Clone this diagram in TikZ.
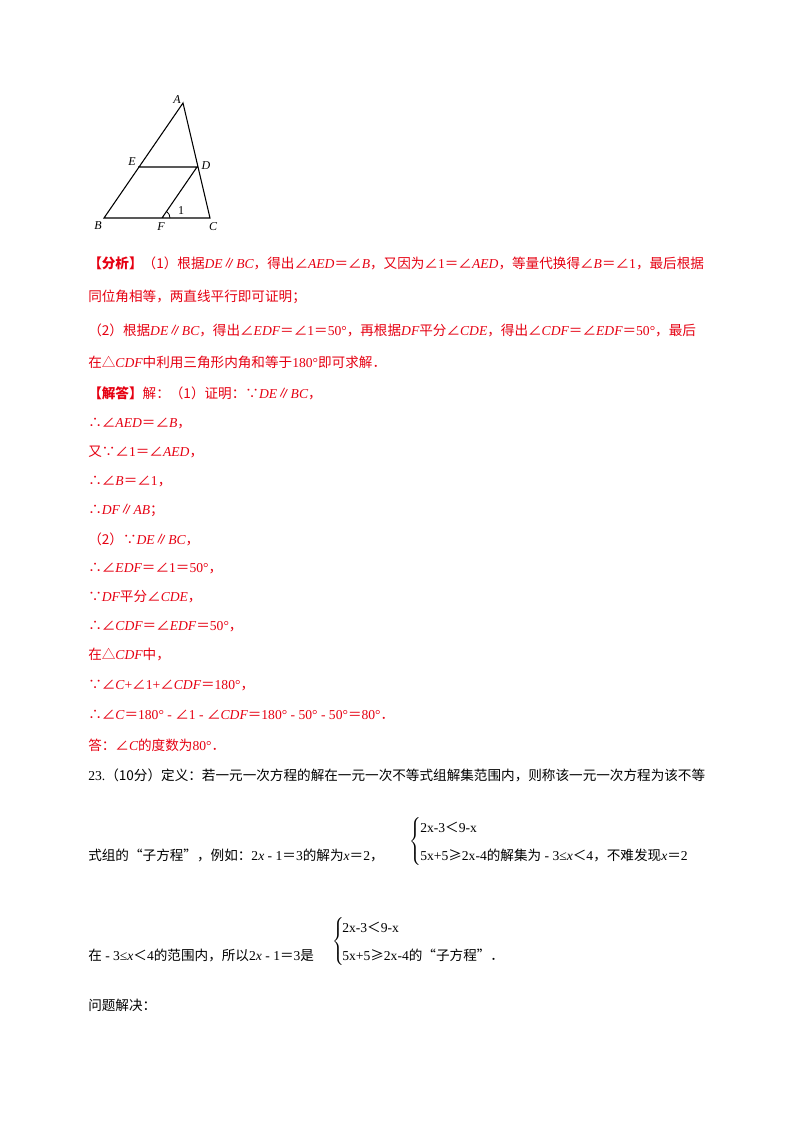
\documentclass[tikz,border=0pt]{standalone}
\usepackage{fontspec}
\setmainfont{Noto Sans CJK SC}
\newfontfamily\tm{Liberation Serif}
\newcommand{\mi}[1]{{\tm\itshape #1}}
\newcommand{\rn}[1]{{\tm #1}}
\newcommand{\ang}{∠}
\definecolor{ans}{RGB}{230,0,18}
\begin{document}
\begin{tikzpicture}[x=0.75pt,y=-0.75pt,
  ln/.style={anchor=west,inner sep=0pt,font=\fontsize{10.2pt}{12pt}\selectfont},
  rd/.style={ln,text=ans},
  seg/.style={line width=0.8pt},
  lab/.style={font=\tm\itshape\fontsize{9pt}{10pt}\selectfont,inner sep=1pt}]
\useasboundingbox (0,0) rectangle (800,1132);
\fill[white] (0,0) rectangle (800,1132);
% figure
\coordinate (A) at (183,103); \coordinate (E) at (138,167);
\coordinate (D) at (197,167); \coordinate (B) at (104,218);
\coordinate (F) at (162,218); \coordinate (C) at (210,218);
\draw[seg] (A)--(B)--(C)--cycle (E)--(D)--(F);
\draw[line width=0.6pt] (170,218) arc[start angle=0,end angle=-54,radius=8];
\node[lab] (lA) at (177,100) {A}; \node[lab] (lE) at (132,162) {E};
\node[lab] (lD) at (206,166) {D}; \node[lab] (lB) at (98,226) {B};
\node[lab] (lF) at (161,227) {F}; \node[lab] (lC) at (213,227) {C};
\node[lab,font=\tm\fontsize{9pt}{10pt}\selectfont] (l1) at (181,211) {1};
% analysis
\node[rd] (t1) at (88,263) {\textbf{【分析】}（1）根据\mi{DE}∥\mi{BC}，得出\ang\mi{AED}＝\ang\mi{B}，又因为\ang\rn{1}＝\ang\mi{AED}，等量代换得\ang\mi{B}＝\ang\rn{1}，最后根据};
\node[rd] (t2) at (88,297) {同位角相等，两直线平行即可证明；};
\node[rd] (t3) at (88,330) {（2）根据\mi{DE}∥\mi{BC}，得出\ang\mi{EDF}＝\ang\rn{1}＝\rn{50°}，再根据\mi{DF}平分\ang\mi{CDE}，得出\ang\mi{CDF}＝\ang\mi{EDF}＝\rn{50°}，最后};
\node[rd] (t4) at (88,362) {在△\mi{CDF}中利用三角形内角和等于\rn{180°}即可求解．};
\node[rd] (t5) at (88,393) {\textbf{【解答】}解：（1）证明：∵\mi{DE}∥\mi{BC}，};
\node[rd] (t6) at (88,423) {∴\ang\mi{AED}＝\ang\mi{B}，};
\node[rd] (t7) at (88,452) {又∵\ang\rn{1}＝\ang\mi{AED}，};
\node[rd] (t8) at (88,481) {∴\ang\mi{B}＝\ang\rn{1}，};
\node[rd] (t9) at (88,510) {∴\mi{DF}∥\mi{AB}；};
\node[rd] (t10) at (88,539) {（2）∵\mi{DE}∥\mi{BC}，};
\node[rd] (t11) at (88,568) {∴\ang\mi{EDF}＝\ang\rn{1}＝\rn{50°}，};
\node[rd] (t12) at (88,597) {∵\mi{DF}平分\ang\mi{CDE}，};
\node[rd] (t13) at (88,626) {∴\ang\mi{CDF}＝\ang\mi{EDF}＝\rn{50°}，};
\node[rd] (t14) at (88,655) {在△\mi{CDF}中，};
\node[rd] (t15) at (88,685) {∵\ang\mi{C}\rn{+}\ang\rn{1+}\ang\mi{CDF}＝\rn{180°}，};
\node[rd] (t16) at (88,715) {∴\ang\mi{C}＝\rn{180° - }\ang\rn{1 - }\ang\mi{CDF}＝\rn{180° - 50° - 50°}＝\rn{80°}．};
\node[rd] (t17) at (88,745) {答：\ang\mi{C}的度数为\rn{80°}．};
% problem 23
\node[ln] (p1) at (88,775) {\rn{23.}（10分）定义：若一元一次方程的解在一元一次不等式组解集范围内，则称该一元一次方程为该不等};
\node[ln] (p2) at (88,855) {式组的“子方程”，例如：\rn{2}\mi{x}\rn{ - 1}＝\rn{3}的解为\mi{x}＝\rn{2}，};
\node[ln] (s1) at (409,840) {$\left\{\vphantom{\rule{0pt}{22pt}}\right.$};
\node[ln] (s1a) at (420,827) {\rn{2x-3}＜\rn{9-x}};
\node[ln] (s1b) at (420,855) {\rn{5x+5}≥\rn{2x-4}的解集为\rn{ - 3≤}\mi{x}＜\rn{4}，不难发现\mi{x}＝\rn{2}};
\node[ln] (p3) at (88,955) {在\rn{ - 3≤}\mi{x}＜\rn{4}的范围内，所以\rn{2}\mi{x}\rn{ - 1}＝\rn{3}是};
\node[ln] (s2) at (332,940) {$\left\{\vphantom{\rule{0pt}{22pt}}\right.$};
\node[ln] (s2a) at (342,927) {\rn{2x-3}＜\rn{9-x}};
\node[ln] (s2b) at (342,955) {\rn{5x+5}≥\rn{2x-4}的“子方程”．};
\node[ln] (p4) at (88,1005) {问题解决：};
\end{tikzpicture}
\end{document}
